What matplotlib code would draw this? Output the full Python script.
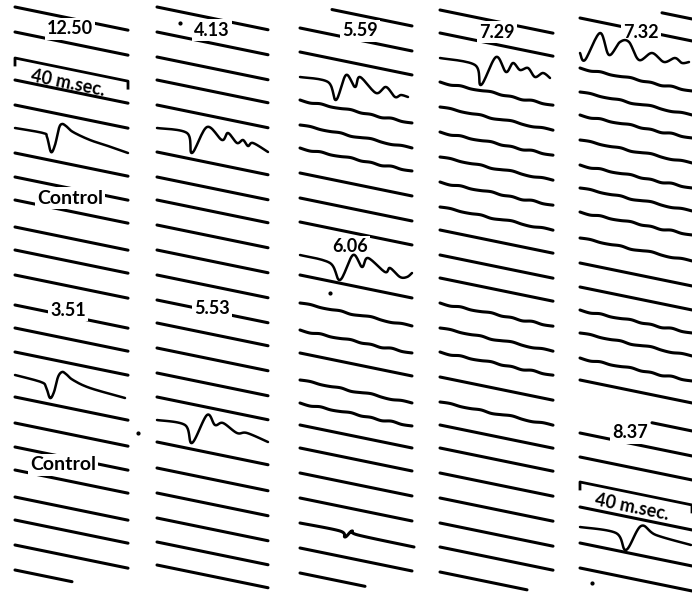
import numpy as np
import matplotlib
matplotlib.use("Agg")
import matplotlib.pyplot as plt

# left-end heights (px from top) of every sweep, column by column
rows_c1 = [7, 32, 80, 105, 128, 153, 177, 200, 227, 250, 275, 305, 328, 352,
           375, 397, 423, 447, 470, 497, 520, 545, 570]
rows_c2 = [7, 32, 57, 80, 105, 128, 152, 177, 200, 225, 250, 275, 300, 323,
           348, 373, 397, 420, 442, 468, 493, 518, 542, 565]
rows_c3 = [3, 28, 52, 77, 100, 125, 148, 173, 198, 222, 255, 275, 303, 330,
           353, 380, 403, 425, 448, 473, 498, 523, 548, 573]
rows_c4 = [10, 33, 58, 82, 107, 132, 157, 182, 207, 230, 255, 278, 303, 328,
           352, 377, 402, 425, 448, 473, 498, 523, 547, 572]
rows_c5 = [-4, 18, 53, 68, 92, 115, 140, 165, 188, 212, 238, 263, 287, 310,
           333, 358, 380, 408, 433, 457, 507, 527, 543, 568]
rows = [rows_c1, rows_c2, rows_c3, rows_c4, rows_c5]

# sweeps that are only partly drawn: (column, row) -> (x start, x end)
partial = {(2, 3): (332, None), (4, -4): (662, None), (4, 408): (652, None),
           (0, 570): (None, 72), (2, 573): (None, 365), (3, 572): (None, 527)}

# evoked responses, (dx, dy) from the sweep's left end
resp_1250 = [(0, 0), (28, 5), (32, 9), (36, 24), (40, 17), (44, 0), (47, -4),
             (51, -2), (58, 4), (75, 12), (93, 18), (113, 25)]
resp_413 = [(0, 0), (30, 5), (35, 25), (50, -1), (65, 12), (71, 5), (80, 15),
            (86, 12), (91, 18), (96, 15), (111, 24)]
resp_559 = [(0, 0), (28, 5), (36, 23), (46, -2), (55, 10), (60, 0), (76, 16),
            (86, 10), (95, 20), (101, 18), (108, 20)]
resp_729 = [(0, 0), (35, 7), (41, 27), (56, -1), (66, 14), (73, 5), (80, 12),
            (88, 10), (95, 19), (103, 15), (110, 20)]
resp_732 = [(0, 0), (5, 7), (20, -20), (29, 2), (40, -11), (49, -11), (59, 7),
            (72, 0), (84, 9), (95, 5), (102, 10), (109, 9)]
resp_351 = [(0, 0), (26, 7), (31, 12), (35, 23), (39, 17), (43, 2), (47, -3),
            (51, -1), (58, 5), (75, 13), (110, 23)]
resp_553 = [(0, 0), (28, 5), (35, 23), (50, -5), (58, 5), (66, 3), (80, 13),
            (90, 13), (111, 22)]
resp_606 = [(0, 0), (30, 8), (40, 25), (53, 0), (62, 12), (68, 3), (85, 17),
            (90, 13), (100, 22), (107, 22), (112, 18)]
resp_837 = [(0, 0), (36, 6), (46, 23), (61, -1), (76, 8), (111, 18)]
small_bump = [(0, 0), (40, 8), (45, 14), (52, 8), (58, 12), (114, 24)]
responses = [(0, 128, resp_1250), (1, 128, resp_413), (2, 77, resp_559),
             (3, 58, resp_729), (4, 53, resp_732), (0, 375, resp_351),
             (1, 420, resp_553), (2, 255, resp_606), (4, 527, resp_837),
             (2, 523, small_bump)]

# small irregular ripple on the noisier sweeps
wobble_a = [0, 1.0, -0.4, 0.6, 0.2, -0.8, 0.5, -0.2, 1.0, -0.6, 0.6, 0]
wobble_b = [0, -0.6, 0.4, 0.3, -0.5, 0.9, 0.1, -0.9, 0.4, 0.8, -0.4, 0]
wavy_rows = {2: [100, 125, 148, 303, 330, 380, 403],
             3: [82, 107, 132, 157, 182, 207, 303, 328, 352, 402],
             4: [68, 92, 115, 140, 165, 188, 212, 238, 310, 333, 358]}

label_text = ["12.50", "4.13", "5.59", "7.29", "7.32", "3.51", "5.53", "6.06", "8.37"]
label_pos = [(70, 29), (212, 30), (360, 31), (497, 32), (641, 32),
             (68, 310), (212, 309), (350, 247), (630, 433)]
control_pos = [(70, 198), (63, 465)]
# 40 m.sec. calibration brackets: (column, height at left)
brackets = [(0, 58), (4, 482)]
dots = [(180, 23), (138, 433), (592, 583), (330, 293)]

col_x = [(15, 128), (157, 268), (300, 412), (440, 553), (580, 692)]
slope = 0.205


def smooth(px, py, n=14):
    pts = np.column_stack([px, py]).astype(float)
    p = np.vstack([pts[0], pts, pts[-1]])
    t = np.linspace(0, 1, n, endpoint=False)[:, None]
    out = []
    for i in range(1, len(p) - 2):
        p0, p1, p2, p3 = p[i - 1], p[i], p[i + 1], p[i + 2]
        out.append(0.5 * (2 * p1 + (-p0 + p2) * t
                          + (2 * p0 - 5 * p1 + 4 * p2 - p3) * t ** 2
                          + (-p0 + 3 * p1 - 3 * p2 + p3) * t ** 3))
    out.append(pts[-1:])
    s = np.vstack(out)
    return s[:, 0], s[:, 1]


fig = plt.figure(figsize=(6.92, 5.93), dpi=100)
ax = fig.add_axes([0, 0, 1, 1])
ax.set_xlim(0, 692)
ax.set_ylim(593, 0)
ax.axis("off")

resp_keys = {(c, r) for c, r, _ in responses}

# plain sweeps
for c, col in enumerate(rows):
    xl, xr = col_x[c]
    wavy = wavy_rows.get(c, [])
    for y0 in col:
        if (c, y0) in resp_keys:
            continue
        xs, xe = partial.get((c, y0), (None, None))
        xs = xl if xs is None else xs
        xe = xr if xe is None else xe
        if y0 in wavy:
            wob = wobble_a if wavy.index(y0) % 2 == 0 else wobble_b
            px = np.linspace(xs, xe, len(wob))
            py = y0 + slope * (px - xl) + np.array(wob)
            px, py = smooth(px, py, 8)
        else:
            px = np.array([xs, xe])
            py = y0 + slope * (px - xl)
        ax.plot(px, py, color="black", lw=2.2, solid_capstyle="round", zorder=2)

# sweeps carrying a response (drawn above the labels)
for c, y0, pts in responses:
    xl = col_x[c][0]
    px = xl + np.array([p[0] for p in pts])
    py = y0 + np.array([p[1] for p in pts])
    px, py = smooth(px, py)
    lw = 2.2 if pts is small_bump else 1.8
    ax.plot(px, py, color="black", lw=lw, solid_capstyle="round",
            solid_joinstyle="round", zorder=5)

# calibration brackets
ang = -np.degrees(np.arctan(slope))
for c, y0 in brackets:
    xl, xr = col_x[c]
    yr = y0 + slope * (xr - xl)
    ax.plot([xl, xl, xr, xr], [y0 + 7, y0, yr, yr + 7], color="black",
            lw=2.0, solid_joinstyle="round", zorder=2)
    ax.text((xl + xr) / 2 - 4, (y0 + yr) / 2 + 14, "40 m.sec.", rotation=ang,
            rotation_mode="anchor", ha="center", va="center",
            family="Lato", weight="bold", fontsize=13, zorder=4)

lab_box = dict(boxstyle="square,pad=0.12", fc="white", ec="none")
for t, (x, y) in zip(label_text, label_pos):
    ax.text(x, y, t, ha="center", va="center", family="Lato", weight="bold",
            fontsize=13, bbox=lab_box, zorder=4)
for x, y in control_pos:
    ax.text(x, y, "Control", ha="center", va="center", family="Lato",
            weight="bold", fontsize=14, bbox=lab_box, zorder=4)

ax.scatter([d[0] for d in dots], [d[1] for d in dots], s=4, color="black", zorder=2)

fig.savefig("out.png", dpi=100, facecolor="white")
